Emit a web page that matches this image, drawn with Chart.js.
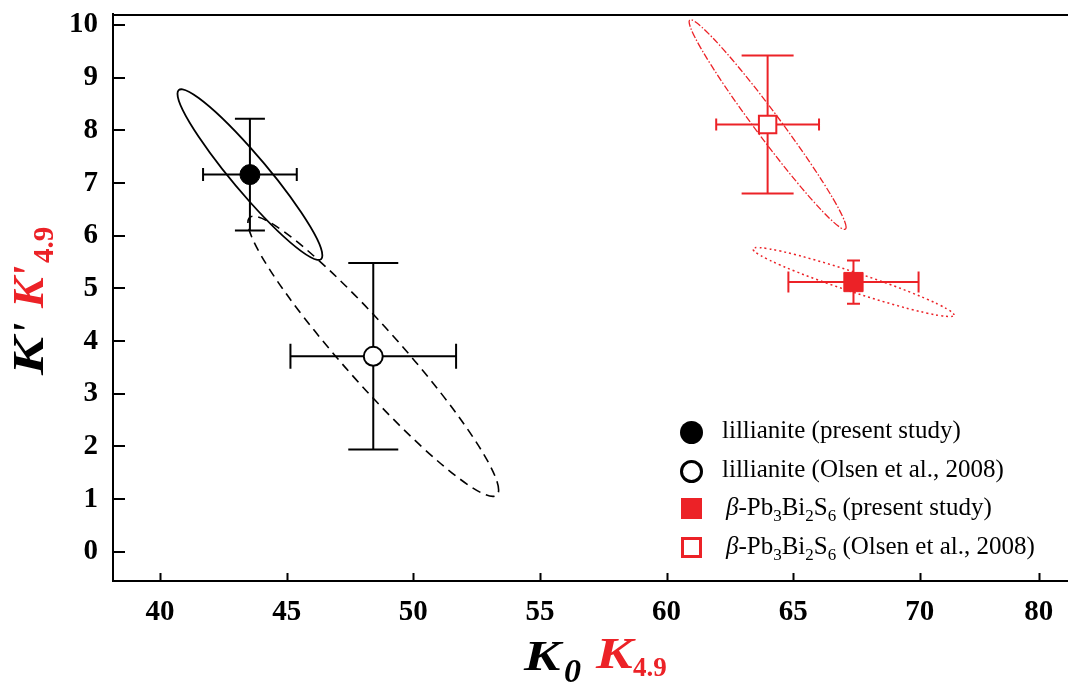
<!DOCTYPE html>
<html><head><meta charset="utf-8">
<script src="https://cdn.jsdelivr.net/npm/chart.js@4.4.0/dist/chart.umd.min.js"></script>
<style>
html,body{margin:0;padding:0;background:#fff;}
#wrap{position:relative;width:1068px;height:683px;overflow:hidden;font-family:"Liberation Serif","Times New Roman",serif;color:#000;}
canvas{position:absolute;left:0;top:0;}
.t{position:absolute;white-space:nowrap;line-height:1;transform-origin:0 0;}
.bi{font-weight:bold;font-style:italic;}
.red{color:#ec2227;}
.leg{position:absolute;white-space:nowrap;font-size:25px;line-height:25px;}
.leg sub{font-size:17px;vertical-align:baseline;position:relative;top:6px;line-height:0;}
.mk{position:absolute;box-sizing:border-box;}
#ytitle{position:absolute;left:7px;top:375px;width:160px;height:50px;transform:rotate(-90deg);transform-origin:0 0;}
</style></head><body>
<div id="wrap">
<canvas id="c" width="1068" height="683"></canvas>
<div id="ytitle">
  <div class="t bi" style="left:0px;top:0px;font-size:44px;transform:scaleX(1.3)">K</div>
  <div class="t bi" style="left:40px;top:0px;font-size:44px">'</div>
  <div class="t bi red" style="left:67px;top:0px;font-size:44px;transform:scaleX(1.05)">K</div>
  <div class="t bi red" style="left:97px;top:0px;font-size:44px">'</div>
  <div class="t red" style="left:112px;top:22px;font-size:29px;font-weight:bold">4.9</div>
</div>
<div class="t bi" style="left:524px;top:635px;font-size:42px;transform:scaleX(1.3)">K</div>
<div class="t bi" style="left:564px;top:654px;font-size:34px">0</div>
<div class="t bi red" style="left:596px;top:632px;font-size:44px;transform:scaleX(1.25)">K</div>
<div class="t red" style="left:633px;top:654px;font-size:27px;font-weight:bold">4.9</div>
<div id="legend"></div>
</div>
<script>
// ---- data ----
const seriesNames = ['lillianite (present study)', 'lillianite (Olsen et al., 2008)', 'β-Pb3Bi2S6 (present study)', 'β-Pb3Bi2S6 (Olsen et al., 2008)'];
const k0 = [43.55, 48.42, 67.38, 63.99];      // K0 / K4.9 (GPa)
const kp = [7.16, 3.71, 5.12, 8.11];          // K' / K'4.9
const k0Err = [1.85, 3.27, 2.57, 2.03];
const kpErr = [1.06, 1.77, 0.41, 1.31];
// confidence ellipses: half-extent in K0, half-extent in K', correlation
const ellK0 = [2.86, 4.95, 3.97, 3.10];
const ellKp = [1.62, 2.66, 0.655, 1.99];
const ellRho = [-0.947, -0.954, -0.955, -0.980];
const xTickValues = [40, 45, 50, 55, 60, 65, 70, 74.7];
const xTickLabels = ['40', '45', '50', '55', '60', '65', '70', '80'];
const yTickValues = [0, 1, 2, 3, 4, 5, 6, 7, 8, 9, 10];
const yTickLabels = ['0', '1', '2', '3', '4', '5', '6', '7', '8', '9', '10'];

// ---- styles ----
const RED = '#ec2227';
const colors = ['#000', '#000', RED, RED];
const ellDash = [[], [9, 6], [2, 3], [7, 2, 1.5, 2]];
const ellWidth = [1.8, 1.6, 1.5, 1.3];
const capX = [6.5, 12.5, 10.5, 6];   // half height of caps on K0 bars
const capY = [15, 25, 6.5, 26];      // half width of caps on K' bars

const overlay = {
  id: 'overlay',
  beforeDatasetsDraw(chart) {
    const {ctx, scales: {x, y}} = chart;
    for (let i = 0; i < k0.length; i++) {
      const cx = x.getPixelForValue(k0[i]), cy = y.getPixelForValue(kp[i]);
      const kx = x.getPixelForValue(k0[i] + ellK0[i]) - cx;
      const ky = y.getPixelForValue(kp[i] + ellKp[i]) - cy;
      const r = ellRho[i], q = Math.sqrt(1 - r * r);
      ctx.save();
      ctx.beginPath();
      ctx.save();
      ctx.transform(kx, ky * r, 0, ky * q, cx, cy);
      ctx.arc(0, 0, 1, 0, Math.PI * 2);
      ctx.restore();
      ctx.lineWidth = ellWidth[i];
      ctx.setLineDash(ellDash[i]);
      ctx.strokeStyle = colors[i];
      ctx.stroke();
      ctx.restore();
    }
    for (let i = 0; i < k0.length; i++) {
      const cx = x.getPixelForValue(k0[i]), cy = y.getPixelForValue(kp[i]);
      const x1 = x.getPixelForValue(k0[i] - k0Err[i]), x2 = x.getPixelForValue(k0[i] + k0Err[i]);
      const y1 = y.getPixelForValue(kp[i] - kpErr[i]), y2 = y.getPixelForValue(kp[i] + kpErr[i]);
      ctx.save();
      ctx.strokeStyle = colors[i];
      ctx.lineWidth = 2;
      ctx.beginPath();
      ctx.moveTo(x1, cy); ctx.lineTo(x2, cy);
      ctx.moveTo(x1, cy - capX[i]); ctx.lineTo(x1, cy + capX[i]);
      ctx.moveTo(x2, cy - capX[i]); ctx.lineTo(x2, cy + capX[i]);
      ctx.moveTo(cx, y1); ctx.lineTo(cx, y2);
      ctx.moveTo(cx - capY[i], y1); ctx.lineTo(cx + capY[i], y1);
      ctx.moveTo(cx - capY[i], y2); ctx.lineTo(cx + capY[i], y2);
      ctx.stroke();
      ctx.restore();
    }
  },
  afterDraw(chart) {
    const {ctx, chartArea: a, scales: {x, y}} = chart;
    ctx.save();
    ctx.strokeStyle = '#000';
    ctx.lineWidth = 2;
    ctx.beginPath();
    ctx.moveTo(a.left, a.top + 1); ctx.lineTo(a.right, a.top + 1);
    xTickValues.forEach(v => { const px = Math.round(x.getPixelForValue(v)) + 0.5; ctx.moveTo(px, a.bottom); ctx.lineTo(px, a.bottom - 8); });
    yTickValues.forEach(v => { const py = Math.round(y.getPixelForValue(v)); ctx.moveTo(a.left, py); ctx.lineTo(a.left + 12, py); });
    ctx.stroke();
    ctx.restore();
  }
};

const tickFont = {family: '"Liberation Serif", "Times New Roman", serif', size: 29, weight: 'bold', lineHeight: 0.9};
const datasets = [
  {label: seriesNames[0], data: [{x: k0[0], y: kp[0]}], pointStyle: 'circle', pointRadius: 10, backgroundColor: '#000', borderColor: '#000', borderWidth: 1},
  {label: seriesNames[1], data: [{x: k0[1], y: kp[1]}], pointStyle: 'circle', pointRadius: 9.5, backgroundColor: '#fff', borderColor: '#000', borderWidth: 2},
  {label: seriesNames[2], data: [{x: k0[2], y: kp[2]}], pointStyle: 'rect', pointRadius: 13.6, backgroundColor: RED, borderColor: RED, borderWidth: 1},
  {label: seriesNames[3], data: [{x: k0[3], y: kp[3]}], pointStyle: 'rect', pointRadius: 12.3, backgroundColor: '#fff', borderColor: RED, borderWidth: 2}
];

new Chart(document.getElementById('c'), {
  type: 'scatter',
  data: {datasets},
  options: {
    responsive: false, animation: false, devicePixelRatio: 1,
    layout: {autoPadding: false, padding: {top: 14, left: 0, right: 0, bottom: 0}},
    plugins: {legend: {display: false}, tooltip: {enabled: false}},
    scales: {
      x: {
        type: 'linear', min: 38.144, max: 75.85,
        afterBuildTicks: s => { s.ticks = xTickValues.map(v => ({value: v})); },
        afterFit: s => { s.height = 102; s.paddingLeft = 0; s.paddingRight = 0; },
        ticks: {callback: (v, i) => xTickLabels[i], font: tickFont, color: '#000', padding: 0, maxRotation: 0, autoSkip: false},
        grid: {display: true, drawOnChartArea: false, drawTicks: true, tickLength: 18, color: 'rgba(0,0,0,0)'},
        border: {display: true, color: '#000', width: 2}
      },
      y: {
        type: 'linear', min: -0.556, max: 10.209,
        afterBuildTicks: s => { s.ticks = yTickValues.map(v => ({value: v})); },
        afterFit: s => { s.width = 113; s.paddingTop = 0; s.paddingBottom = 0; },
        ticks: {callback: (v, i) => yTickLabels[i], font: tickFont, color: '#000', padding: 0, autoSkip: false},
        grid: {display: true, drawOnChartArea: false, drawTicks: true, tickLength: 15, color: 'rgba(0,0,0,0)'},
        border: {display: true, color: '#000', width: 2}
      }
    }
  },
  plugins: [overlay]
});

// ---- legend (HTML text) ----
const legMarkerY = [432, 471, 508, 547];
const legBaseline = [438, 476.5, 515, 553.5];
const legMarkers = [
  'width:23px;height:23px;border-radius:50%;background:#000;',
  'width:23px;height:23px;border-radius:50%;background:#fff;border:3.5px solid #000;',
  'width:21px;height:21px;background:' + RED + ';',
  'width:21px;height:21px;background:#fff;border:3.5px solid ' + RED + ';'
];
const legTextX = [722, 722, 726, 726];
function toHtml(s) {
  return s.replace(/β/g, '<i>β</i>').replace(/([A-Za-z])(\d)(?=[A-Z ])/g, '$1<sub>$2</sub>');
}
const legEl = document.getElementById('legend');
seriesNames.forEach((name, i) => {
  const m = document.createElement('div');
  m.className = 'mk';
  const sz = i < 2 ? 23 : 21;
  m.style.cssText = legMarkers[i] + 'left:' + (691 - sz / 2) + 'px;top:' + (legMarkerY[i] - sz / 2) + 'px;';
  legEl.appendChild(m);
  const t = document.createElement('div');
  t.className = 'leg';
  t.style.left = legTextX[i] + 'px';
  t.style.top = (legBaseline[i] - 20.9) + 'px';
  t.innerHTML = toHtml(name);
  legEl.appendChild(t);
});
</script>
</body></html>
